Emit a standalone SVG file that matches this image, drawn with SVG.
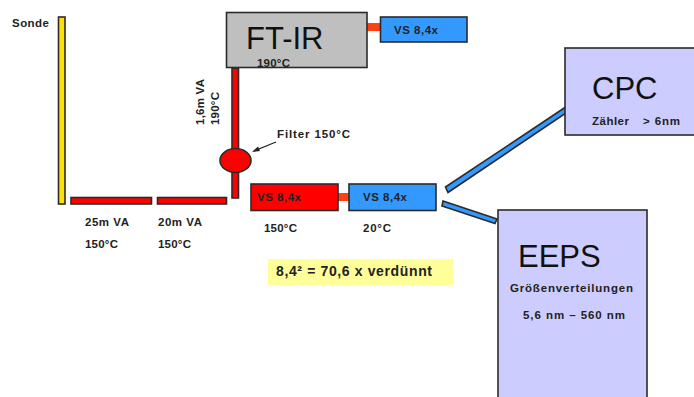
<svg xmlns="http://www.w3.org/2000/svg" width="694" height="397" viewBox="0 0 694 397">
<style>
text{font-family:"Liberation Sans",Arial,sans-serif;fill:#222}
.s{font-size:11.500px;font-weight:bold}
.l{font-size:31px;font-weight:normal;fill:#111}
.o{stroke:#2b2b2b;stroke-width:1.600}
.red{fill:#f00}.blue{fill:#3399ff}.lil{fill:#ccccff}
</style>
<rect width="694" height="397" fill="#fff"/>
<g id="connectors">
<rect class="o red" x="232" y="68" width="6.500" height="130"/>
<rect x="366" y="23" width="16" height="8" fill="#ff4013"/>
<rect x="337" y="193" width="13" height="8" fill="#ff4013"/>
<polygon class="o blue" points="445.500,187 565,107.500 567.500,112 448,192.500"/>
<polygon class="o blue" points="443,201 497,219 495,223.500 442,206"/>
<path d="M276 142 L254 151" stroke="#222" stroke-width="1.200" fill="none"/>
<polygon points="252,152 258,146.500 260,151" fill="#222"/>
</g>
<g id="sonde"><rect x="58.500" y="17" width="6.500" height="187" fill="#ffe000" stroke="#2b2b2b" stroke-width="1.600"/><text class="s" x="12" y="27" textLength="37">Sonde</text></g>
<g id="va25"><rect class="o red" x="71" y="197.500" width="80.500" height="6.500"/><text class="s" x="85" y="226" textLength="44">25m VA</text><text class="s" x="85" y="248" textLength="33">150°C</text></g>
<g id="va20"><rect class="o red" x="157.500" y="197.500" width="69" height="6.500"/><text class="s" x="158" y="226" textLength="44">20m VA</text><text class="s" x="158" y="248" textLength="33">150°C</text></g>
<g id="ftir"><rect x="226.500" y="12.500" width="140.500" height="55" fill="#bfbfbf" stroke="#2b2b2b" stroke-width="1.600"/><text class="l" x="246" y="49">FT-IR</text><text class="s" x="257" y="66.500" textLength="33">190°C</text></g>
<g id="va16"><text class="s" transform="translate(204,125) rotate(-90)" textLength="46">1,6m VA</text><text class="s" transform="translate(219,125) rotate(-90)" textLength="33">190°C</text></g>
<g id="filter"><ellipse class="o red" cx="235.500" cy="160.500" rx="15.500" ry="12"/><text class="s" x="277" y="138" textLength="73">Filter  150°C</text></g>
<g id="vs-top"><rect class="o blue" x="380.500" y="17" width="86.500" height="25"/><text class="s" x="394" y="34" textLength="44">VS 8,4x</text></g>
<g id="vs-red"><rect class="o red" x="251" y="184" width="87" height="26.500"/><text class="s" x="257" y="201" textLength="44">VS 8,4x</text><text class="s" x="264" y="232" textLength="33">150°C</text></g>
<g id="vs-blue"><rect class="o blue" x="349" y="184" width="87" height="26.500"/><text class="s" x="363" y="201" textLength="44">VS 8,4x</text><text class="s" x="363" y="232" textLength="28">20°C</text></g>
<g id="note"><rect x="268" y="259" width="185" height="26" fill="#ffff99"/><text x="276" y="276" font-size="14" font-weight="bold" textLength="156">8,4² = 70,6 x verdünnt</text></g>
<g id="cpc"><rect class="o lil" x="565" y="48" width="135" height="87"/><text class="l" x="592" y="99">CPC</text><text class="s" x="592" y="125" textLength="37">Zähler</text><text class="s" x="643" y="125" textLength="37">&gt; 6nm</text></g>
<g id="eeps"><rect class="o lil" x="498" y="210" width="149" height="200"/><text class="l" x="518" y="267">EEPS</text><text class="s" x="510" y="292" textLength="123">Größenverteilungen</text><text class="s" x="523" y="319" textLength="102">5,6 nm – 560 nm</text></g>
</svg>
